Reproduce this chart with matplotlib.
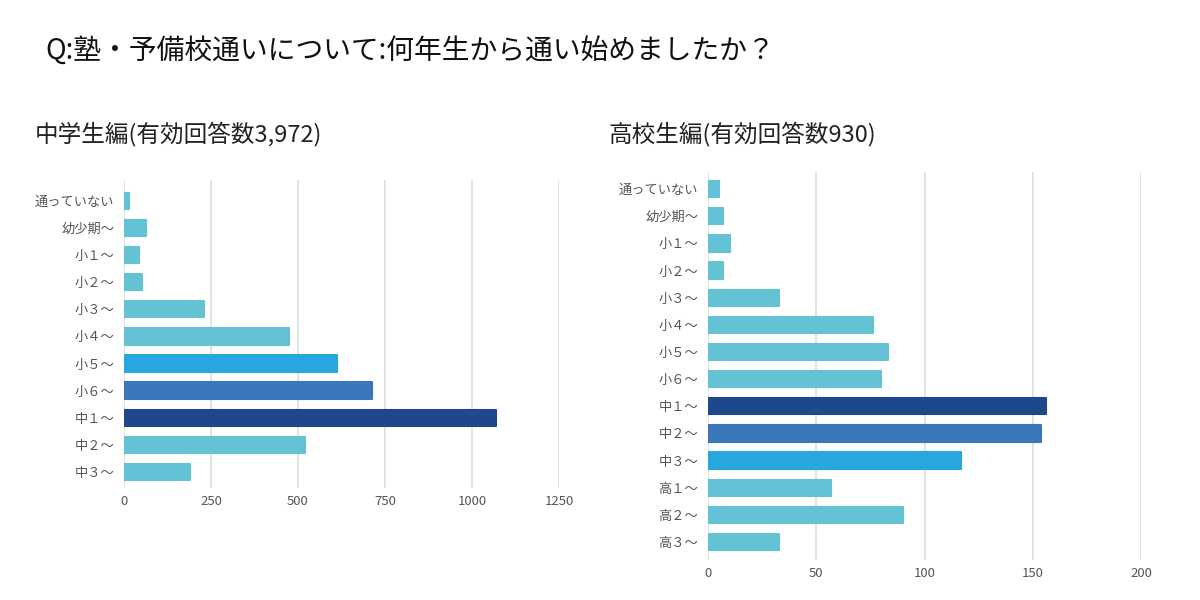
import matplotlib
matplotlib.use("Agg")
import matplotlib.pyplot as plt

plt.rcParams['font.family'] = ['Noto Sans CJK JP', 'DejaVu Sans']

# data
title = "Q:塾・予備校通いについて:何年生から通い始めましたか？"

jh_title = "中学生編(有効回答数3,972)"
jh_labels = ["通っていない", "幼少期～", "小１～", "小２～", "小３～", "小４～",
             "小５～", "小６～", "中１～", "中２～", "中３～"]
jh_values = [15, 62, 42, 52, 229, 474, 613, 712, 1069, 519, 191]
jh_ticks = [0, 250, 500, 750, 1000, 1250]

hs_title = "高校生編(有効回答数930)"
hs_labels = ["通っていない", "幼少期～", "小１～", "小２～", "小３～", "小４～",
             "小５～", "小６～", "中１～", "中２～", "中３～", "高１～", "高２～", "高３～"]
hs_values = [5, 7, 10, 7, 33, 76, 83, 80, 156, 154, 117, 57, 90, 33]
hs_ticks = [0, 50, 100, 150, 200]

LIGHT = "#63c3d5"
BRIGHT = "#28a6e0"
MID = "#3a76ba"
DARK = "#1e478c"
jh_colors = [LIGHT] * 6 + [BRIGHT, MID, DARK, LIGHT, LIGHT]
hs_colors = [LIGHT] * 8 + [DARK, MID, BRIGHT, LIGHT, LIGHT, LIGHT]

W, H = 1200, 600
fig = plt.figure(figsize=(12, 6), dpi=100)
fig.patch.set_facecolor("white")


def px_axes(x0, y0, x1, y1):
    return fig.add_axes([x0 / W, 1 - y1 / H, (x1 - x0) / W, (y1 - y0) / H])


def draw(ax, labels, values, colors, ticks, xmax, ylim):
    y = range(len(labels))
    bars = ax.barh(y, values, height=0.6, color=colors, edgecolor=colors,
                   linewidth=1.5, zorder=3)
    for b in bars:
        b.set_joinstyle("round")
    ax.set_yticks(list(y))
    ax.set_yticklabels(labels)
    ax.set_xticks(ticks)
    ax.set_xlim(0, xmax)
    ax.set_ylim(*ylim)
    ax.grid(axis="x", color="#e2e2e2", linewidth=1.4, zorder=0)
    for s in ax.spines.values():
        s.set_visible(False)
    ax.tick_params(axis="both", length=0, labelsize=9.5, labelcolor="#555555")
    ax.tick_params(axis="y", pad=7)
    ax.tick_params(axis="x", pad=5)


ax1 = px_axes(124, 180, 559, 488)
draw(ax1, jh_labels, jh_values, jh_colors, jh_ticks, 1250, (10.6, -0.78))

ax2 = px_axes(708, 172, 1141, 560)
draw(ax2, hs_labels, hs_values, hs_colors, hs_ticks, 200, (13.66, -0.63))

fig.text(45 / W, 1 - 51 / H, title, fontsize=20, va="center", ha="left", color="#111111")
fig.text(35 / W, 1 - 134 / H, jh_title, fontsize=17, va="center", ha="left", color="#222222")
fig.text(609 / W, 1 - 134 / H, hs_title, fontsize=17, va="center", ha="left", color="#222222")

fig.savefig("out.png", dpi=100)
